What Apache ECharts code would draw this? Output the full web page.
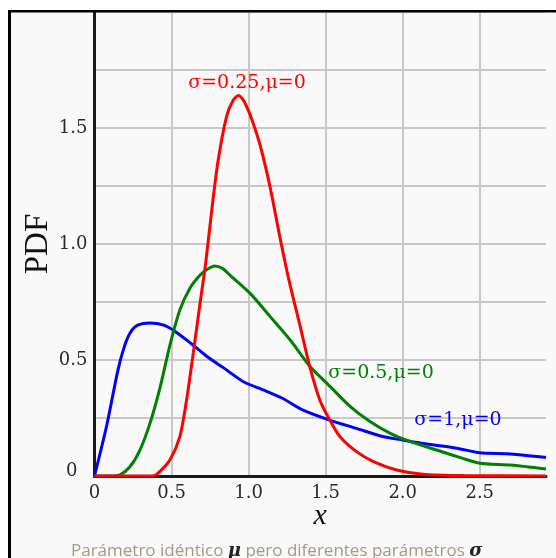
<!DOCTYPE html>
<html>
<head>
<meta charset="utf-8">
<title>Log-normal PDF</title>
<script src="https://cdn.jsdelivr.net/npm/echarts@6/dist/echarts.min.js"></script>
<style>
	html, body { margin:0; padding:0; background:#fff; }
	#lognormPdf { width:556px; height:558px; }
</style>
</head>
<body>
<div id="lognormPdf"></div>
<script>
/*Log-normal PDF chart*/

"use strict";

/*****Data start*****/
var xMax = 2.93;
var yMax = 2;
var xTickLabels = [0, 0.5, 1.0, 1.5, 2.0, 2.5];
var yTickLabels = [0, 0.5, 1.0, 1.5];

// sigma = 1, mu = 0  (blue)
var curveSigma1 = [
	[0, 0], [0.08, 0.22], [0.15, 0.45], [0.19, 0.55], [0.23, 0.615], [0.28, 0.65], [0.36, 0.66], [0.45, 0.65],
	[0.53, 0.62], [0.62, 0.575], [0.73, 0.515], [0.84, 0.465], [0.97, 0.405], [1.10, 0.37],
	[1.22, 0.335], [1.35, 0.285], [1.53, 0.24], [1.70, 0.205], [1.87, 0.17], [2.0, 0.155],
	[2.13, 0.14], [2.35, 0.12], [2.5, 0.10], [2.7, 0.095], [2.93, 0.08]
];
// sigma = 0.5, mu = 0  (green)
var curveSigma05 = [
	[0, 0], [0.10, 0], [0.165, 0.005], [0.23, 0.04], [0.295, 0.112], [0.36, 0.227],
	[0.425, 0.38], [0.49, 0.565], [0.554, 0.715], [0.62, 0.81], [0.684, 0.865], [0.73, 0.89],
	[0.78, 0.905], [0.83, 0.895], [0.88, 0.865], [1.01, 0.787], [1.14, 0.687], [1.27, 0.586],
	[1.40, 0.471], [1.53, 0.385], [1.66, 0.299], [1.79, 0.234], [1.92, 0.184], [2.05, 0.148],
	[2.22, 0.112], [2.39, 0.076], [2.5, 0.055], [2.7, 0.047], [2.93, 0.03]
];
// sigma = 0.25, mu = 0  (red)
var curveSigma025 = [
	[0, 0], [0.38, 0], [0.425, 0.02], [0.49, 0.07], [0.554, 0.17], [0.598, 0.33],
	[0.641, 0.53], [0.684, 0.74], [0.72, 0.91], [0.76, 1.14], [0.80, 1.35], [0.857, 1.55],
	[0.90, 1.62], [0.935, 1.64], [0.97, 1.615], [1.008, 1.56], [1.073, 1.43], [1.138, 1.25],
	[1.203, 1.03], [1.26, 0.85], [1.333, 0.65], [1.397, 0.471], [1.462, 0.328], [1.527, 0.241],
	[1.592, 0.17], [1.70, 0.105], [1.81, 0.062], [1.96, 0.026], [2.13, 0.008], [2.4, 0.002], [2.93, 0]
];
/*****Data end*****/

var serifFont = "'DejaVu Serif', serif";
var tickColor = '#2a2a2a';

function isTick(v, list) {
	for (var i = 0; i < list.length; i++) {
		if (Math.abs(v - list[i]) < 1e-6) return true;
	}
	return false;
}

/*****E-Charts function start*****/
var pdfChart = echarts.init(document.getElementById('lognormPdf'));
var option = {
	backgroundColor: '#f9f9f9',
	animation: false,
	grid: {
		left: 94.5,
		right: 10,
		top: 12,
		bottom: 82,
		containLabel: false
	},
	xAxis: {
		type: 'value',
		min: 0,
		max: xMax,
		interval: 0.5,
		name: 'x',
		nameLocation: 'middle',
		nameGap: 25,
		nameMoveOverlap: false,
		nameTextStyle: {
			fontFamily: "'Liberation Serif', serif",
			fontStyle: 'italic',
			fontSize: 30,
			color: '#111'
		},
		axisLine: { lineStyle: { color: '#1a1a1a', width: 3 } },
		axisTick: { show: false },
		axisLabel: {
			margin: 8,
			fontFamily: serifFont,
			fontSize: 18,
			color: tickColor,
			formatter: function (v) {
				if (!isTick(v, xTickLabels)) return '';
				return v === 0 ? '0' : v.toFixed(1);
			}
		},
		splitLine: {
			show: true,
			showMaxLine: false,
			lineStyle: { color: '#c8c8c8', width: 2 }
		}
	},
	yAxis: {
		type: 'value',
		min: 0,
		max: yMax,
		interval: 0.25,
		name: 'PDF',
		nameLocation: 'middle',
		nameGap: 40,
		nameMoveOverlap: false,
		nameTextStyle: {
			fontFamily: "'Liberation Serif', serif",
			fontSize: 33,
			color: '#111'
		},
		axisLine: { lineStyle: { color: '#1a1a1a', width: 3 } },
		axisTick: { show: false },
		axisLabel: {
			margin: 7,
			fontFamily: serifFont,
			fontSize: 18,
			color: tickColor,
			formatter: function (v) {
				if (!isTick(v, yTickLabels)) return '';
				return v === 0 ? '{z|0}' : v.toFixed(1);
			},
			rich: {
				z: {
					fontFamily: serifFont,
					fontSize: 18,
					color: tickColor,
					padding: [0, 10, 10, 0]
				}
			}
		},
		splitLine: {
			show: true,
			lineStyle: { color: '#c8c8c8', width: 2 }
		}
	},
	series: [
		{
			name: 'σ=1,μ=0',
			type: 'line',
			data: curveSigma1,
			showSymbol: false,
			smooth: 0.25,
			lineStyle: { color: '#0000ff', width: 3 }
		},
		{
			name: 'σ=0.5,μ=0',
			type: 'line',
			data: curveSigma05,
			showSymbol: false,
			smooth: 0.25,
			lineStyle: { color: '#008000', width: 3 }
		},
		{
			name: 'σ=0.25,μ=0',
			type: 'line',
			data: curveSigma025,
			showSymbol: false,
			smooth: 0.25,
			lineStyle: { color: '#ff0000', width: 3 }
		}
	],
	graphic: [
		// white margin outside the frame
		{ type: 'rect', left: 0, top: 0, shape: { width: 556, height: 10 }, style: { fill: '#fff' }, silent: true },
		{ type: 'rect', left: 0, top: 0, shape: { width: 8, height: 558 }, style: { fill: '#fff' }, silent: true },
		// frame lines
		{ type: 'rect', left: 8, top: 10, shape: { width: 548, height: 2.5 }, style: { fill: '#000' }, z: 100, silent: true },
		{ type: 'rect', left: 8, top: 10, shape: { width: 3, height: 548 }, style: { fill: '#000' }, z: 100, silent: true },
		// curve labels
		{
			type: 'text', x: 247, y: 83, z: 100,
			style: { text: 'σ=0.25,μ=0', fill: '#ff0000', font: "19px 'DejaVu Serif', serif", align: 'center', verticalAlign: 'middle' }
		},
		{
			type: 'text', x: 381, y: 373, z: 100,
			style: { text: 'σ=0.5,μ=0', fill: '#008000', font: "19px 'DejaVu Serif', serif", align: 'center', verticalAlign: 'middle' }
		},
		{
			type: 'text', x: 458, y: 420, z: 100,
			style: { text: 'σ=1,μ=0', fill: '#0000ff', font: "19px 'DejaVu Serif', serif", align: 'center', verticalAlign: 'middle' }
		},
		// caption
		{
			type: 'text', x: 71, y: 551, z: 100,
			style: {
				text: '{a|Parámetro idéntico }{b|μ}{a| pero diferentes parámetros }{b|σ}',
				verticalAlign: 'middle',
				rich: {
					a: { fontFamily: "'Open Sans', sans-serif", fontSize: 17, fill: '#a2998a', color: '#a2998a' },
					b: { fontFamily: "'DejaVu Serif', serif", fontSize: 18, fontStyle: 'italic', fontWeight: 'bold', fill: '#222', color: '#222' }
				}
			}
		}
	]
};

pdfChart.setOption(option);
pdfChart.resize();
/*****E-Charts function end*****/
</script>
</body>
</html>
